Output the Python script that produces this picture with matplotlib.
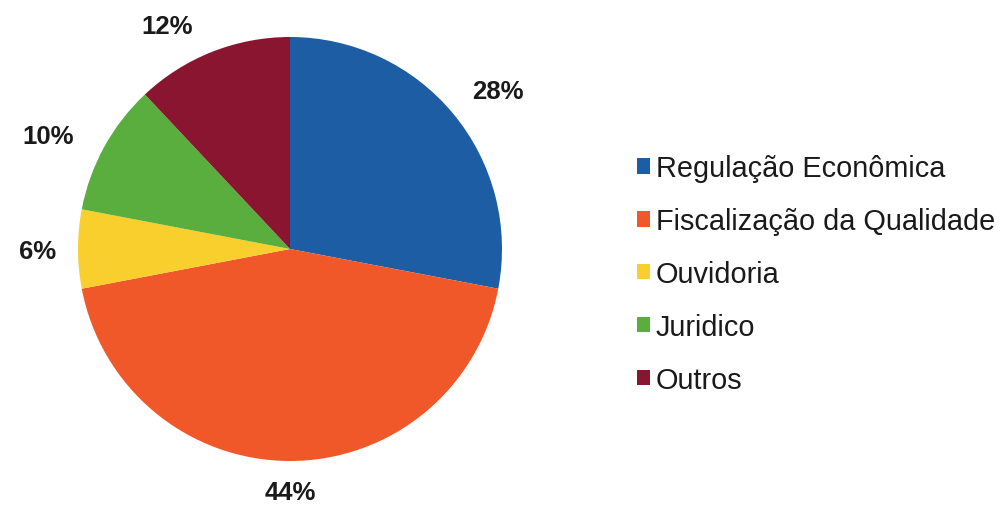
import matplotlib.pyplot as plt
from matplotlib.patches import Patch

categories = ['Regulação Econômica', 'Fiscalização da Qualidade', 'Ouvidoria',
              'Juridico', 'Outros']
shares = [28, 44, 6, 10, 12]
colors = ['#1d5da3', '#f0582a', '#f9cf2e', '#5aae3e', '#8a1531']
# where each percentage label sits, in pie radius units
label_xy = [(0.98, 0.745), (0.0, -1.146), (-1.189, -0.009),
            (-1.142, 0.535), (-0.58, 1.05)]

W, H = 1005, 506
fig = plt.figure(figsize=(W / 100, H / 100), dpi=100)

# pie centred at (290, 250) px, radius 212 px
cx, cy, r = 290, 250, 212
ax = fig.add_axes([(cx - r) / W, (H - cy - r) / H, 2 * r / W, 2 * r / H])
wedges, texts, pcts = ax.pie(
    shares, colors=colors, startangle=90, counterclock=False, radius=1,
    autopct='%d%%', pctdistance=1.2,
    wedgeprops=dict(linewidth=0),
    textprops=dict(family='Liberation Sans', fontweight='bold',
                   fontsize=18.5, color='#1a1a1a'))
for t, xy in zip(pcts, label_xy):
    t.set_position(xy)
    t.set_clip_on(False)
ax.set_xlim(-1, 1)
ax.set_ylim(-1, 1)
ax.set_aspect('equal')
ax.axis('off')

handles = [Patch(facecolor=c, edgecolor='none') for c in colors]
fig.legend(handles, categories, loc='center left',
           bbox_to_anchor=(617 / W, 1 - 275 / H), frameon=False,
           prop=dict(family='Liberation Sans', size=20.8),
           handlelength=0.45, handleheight=0.45, handletextpad=0.2,
           labelspacing=0.86, labelcolor='#1a1a1a', borderpad=0.2)

fig.savefig('out.png', dpi=100)
